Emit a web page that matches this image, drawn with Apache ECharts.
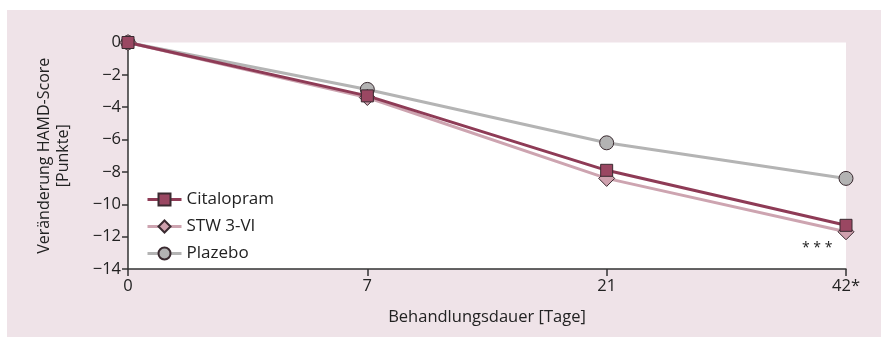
<!DOCTYPE html>
<html><head><meta charset="utf-8">
<script src="https://cdn.jsdelivr.net/npm/echarts@6/dist/echarts.min.js"></script>
<style>html,body{margin:0;padding:0;background:#fff}#c{width:881px;height:343px}</style>
</head><body><div id="c"></div>
<script>
const categories = ['0', '7', '21', '42*'];
const citalopram = [0, -3.3, -7.9, -11.3];
const stw = [0, -3.4, -8.4, -11.7];
const plazebo = [0, -2.9, -6.2, -8.4];
const yTicks = [0, -2, -4, -6, -8, -10, -12, -14];

const FONT = '"Open Sans", "Noto Sans", sans-serif';
const chart = echarts.init(document.getElementById('c'), null, {renderer: 'canvas'});
function mk(name, data, lineColor, fill, symbol, size, z) {
  return {
    name, type: 'line', data, symbol, symbolSize: size, z,
    lineStyle: {color: lineColor, width: 3},
    itemStyle: {color: fill, borderColor: '#3a2a30', borderWidth: 1},
    emphasis: {disabled: true}
  };
}
chart.setOption({
  animation: false,
  backgroundColor: '#fff',
  graphic: [
    {type: 'rect', shape: {x: 7, y: 10, width: 874, height: 327}, style: {fill: '#efe3e8'}, z: -10, silent: true},
    {type: 'text', left: 802, top: 241, style: {text: '* * *', fill: '#222', font: '14px ' + FONT}, z: 10}
  ],
  grid: {left: 128, right: 35, top: 42.5, bottom: 74, show: true, backgroundColor: '#fff', borderWidth: 0},
  legend: {
    orient: 'vertical', left: 141, top: 186, itemWidth: 34, itemHeight: 15, itemGap: 10,
    textStyle: {fontFamily: FONT, fontSize: 17, color: '#222'},
    lineStyle: {width: 3},
    data: ['Citalopram', 'STW 3-VI', 'Plazebo']
  },
  xAxis: {
    type: 'category', data: categories, boundaryGap: false,
    name: 'Behandlungsdauer [Tage]', nameLocation: 'middle', nameGap: 40,
    nameTextStyle: {fontFamily: FONT, fontSize: 16.5, color: '#222'},
    axisLine: {onZero: false, lineStyle: {color: '#333', width: 1.5}},
    axisTick: {show: true, alignWithLabel: true, length: 7, lineStyle: {color: '#333', width: 1.5}},
    axisLabel: {fontFamily: FONT, fontSize: 16.5, color: '#222', margin: 9},
    splitLine: {show: false}
  },
  yAxis: {
    type: 'value', min: -14, max: 0, interval: 2,
    name: 'Veränderung HAMD-Score\n[Punkte]', nameLocation: 'middle', nameGap: 55, nameRotate: 90,
    nameTextStyle: {fontFamily: FONT, fontSize: 16, color: '#222', lineHeight: 19},
    axisLine: {show: true, onZero: false, lineStyle: {color: '#333', width: 1.5}},
    axisTick: {show: true, length: 6, lineStyle: {color: '#333', width: 1.5}},
    axisLabel: {fontFamily: FONT, fontSize: 16.5, color: '#222', margin: 7,
      formatter: v => (v < 0 ? '\u2212' + Math.abs(v) : String(v))},
    splitLine: {show: false}
  },
  series: [
    mk('Plazebo', plazebo, '#b4b4b4', '#b3b3b3', 'circle', 14, 2),
    mk('STW 3-VI', stw, '#cda4b0', '#cfa1ae', 'diamond', 16, 3),
    mk('Citalopram', citalopram, '#8e3b56', '#9a4762', 'rect', 12, 4)
  ]
});
</script></body></html>
